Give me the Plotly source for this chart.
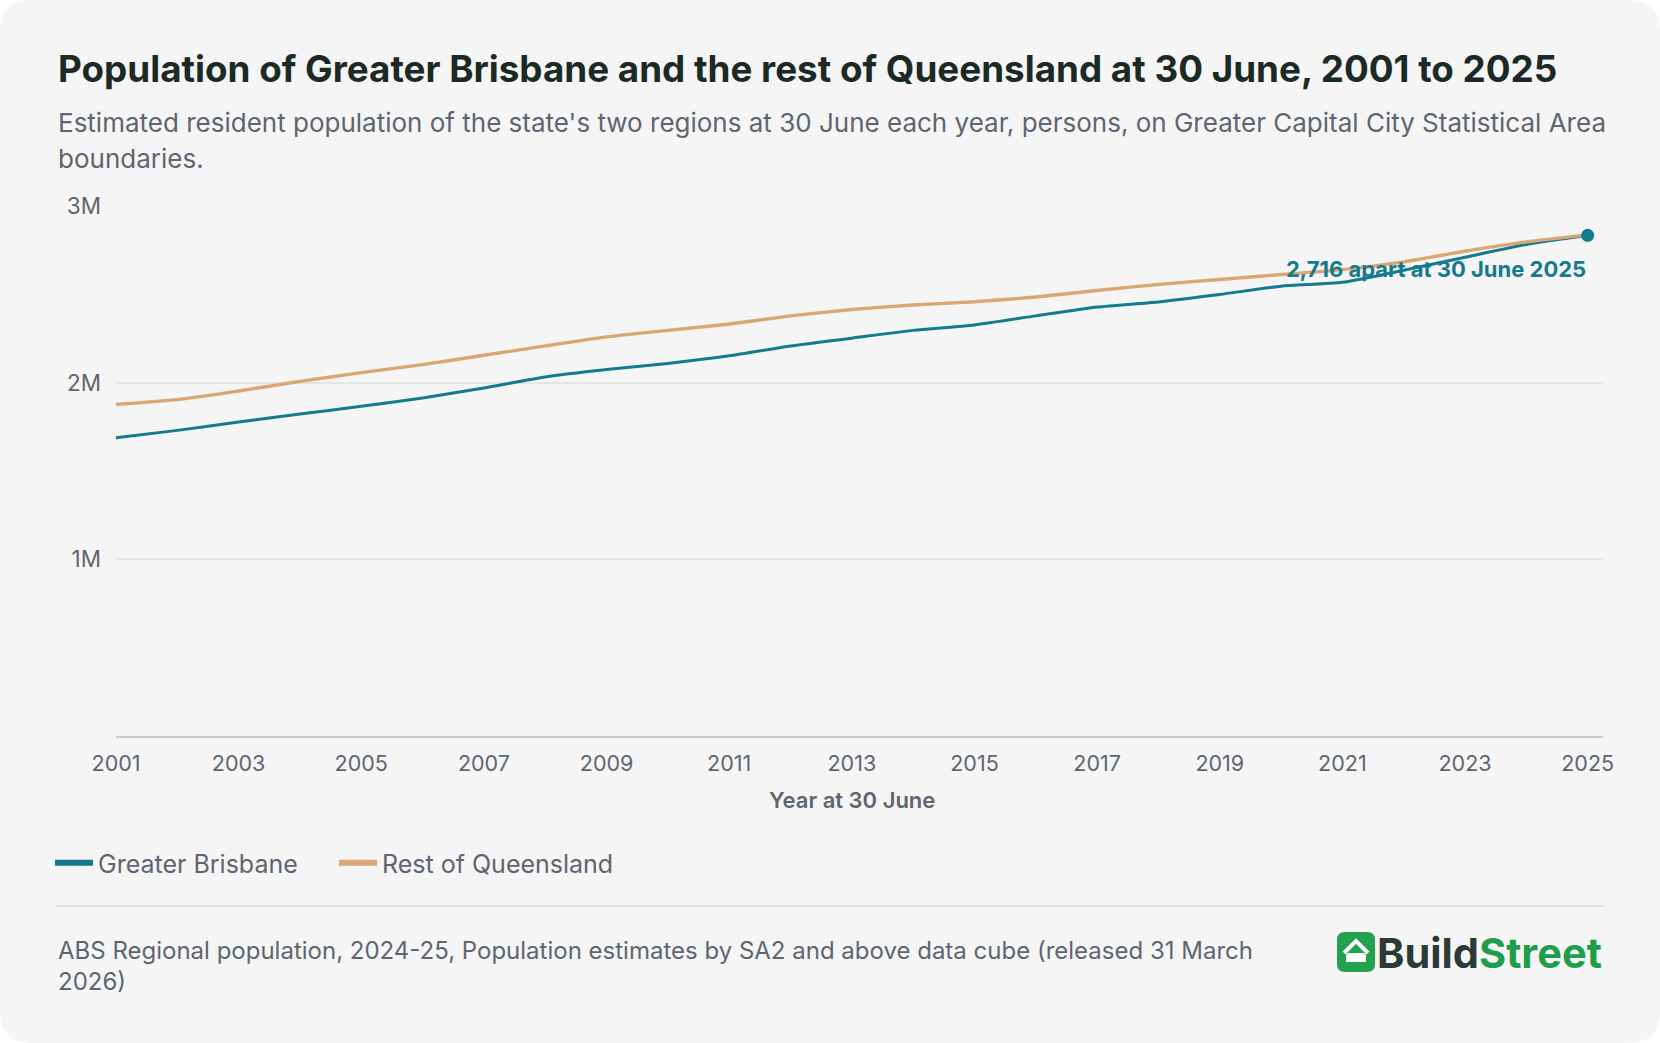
import plotly.graph_objects as go

# Estimated resident population at 30 June
years = list(range(2001, 2026))
brisbane = [1688000, 1730000, 1777000, 1823000, 1866000, 1913000, 1970000, 2032000,
            2074000, 2109000, 2152000, 2208000, 2252000, 2296000, 2327000, 2378000,
            2428000, 2457000, 2499000, 2546000, 2568000, 2636000, 2710000, 2782000,
            2834000]
rest_of_qld = [1877000, 1904000, 1953000, 2007000, 2057000, 2102000, 2155000, 2208000,
               2259000, 2296000, 2332000, 2378000, 2414000, 2440000, 2458000, 2485000,
               2522000, 2556000, 2584000, 2612000, 2640000, 2684000, 2744000, 2797000,
               2836716]
x_ticks = list(range(2001, 2026, 2))
y_ticks = [1000000, 2000000, 3000000]
y_tick_labels = ["1M", "2M", "3M"]
gap_label = f"{rest_of_qld[-1] - brisbane[-1]:,} apart at 30 June 2025"

TEAL = "#147a8e"
TAN = "#d9a674"
W, H = 1660, 1043
L, R, T, B = 116, 57, 206, 307
PW, PH = W - L - R, H - T - B


# helpers to place things by pixel position in paper coordinates
def px(xp):
    return (xp - L) / PW


def py(yp):
    return 1 - (yp - T) / PH


fig = go.Figure()

fig.add_trace(go.Scatter(x=years, y=brisbane, mode="lines", name="Greater Brisbane",
                         line=dict(color=TEAL, width=3, shape="spline", smoothing=0.6),
                         showlegend=False))
fig.add_trace(go.Scatter(x=years, y=rest_of_qld, mode="lines", name="Rest of Queensland",
                         line=dict(color=TAN, width=3.4, shape="spline", smoothing=0.6),
                         showlegend=False))
fig.add_trace(go.Scatter(x=years[-1:], y=brisbane[-1:], mode="markers", showlegend=False,
                         marker=dict(color=TEAL, size=13)))

# legend entries with thicker strokes
fig.add_trace(go.Scatter(x=[None], y=[None], mode="lines", name="Greater Brisbane",
                         line=dict(color=TEAL, width=6)))
fig.add_trace(go.Scatter(x=[None], y=[None], mode="lines", name="Rest of Queensland",
                         line=dict(color=TAN, width=6)))

FONT = "Inter, Roboto, sans-serif"
GREY = "#5d6570"

annotations = [
    dict(text="Population of Greater Brisbane and the rest of Queensland at 30 June, 2001 to 2025",
         x=px(56), y=py(69), font=dict(size=36.8, color="#1c2a26", weight=700)),
    dict(text="Estimated resident population of the state's two regions at 30 June each year, persons, on Greater Capital City Statistical Area",
         x=px(56), y=py(123), font=dict(size=26, color=GREY)),
    dict(text="boundaries.", x=px(56), y=py(159), font=dict(size=26, color=GREY)),
    dict(text="Year at 30 June", x=px(852), y=py(800), xanchor="center",
         font=dict(size=22, color=GREY, weight=600)),
    dict(text="ABS Regional population, 2024-25, Population estimates by SA2 and above data cube (released 31 March",
         x=px(56), y=py(950), font=dict(size=24, color=GREY)),
    dict(text="2026)", x=px(56), y=py(981), font=dict(size=24, color=GREY)),
    dict(text="<span style='color:#2c3a36'>Build</span><span style='color:#1e9d4a'>Street</span>",
         x=px(1604), y=py(953), xanchor="right", font=dict(size=41.5, weight=700)),
]
for a in annotations:
    a.setdefault("xanchor", "left")
    a.update(xref="paper", yref="paper", yanchor="middle", showarrow=False)

annotations.append(dict(text=gap_label, x=years[-1], y=brisbane[-1], xref="x", yref="y",
                        xanchor="right", yanchor="middle", xshift=0, yshift=-34,
                        showarrow=False, font=dict(size=22, color=TEAL, weight=700)))

# card background with rounded corners
r = 32
x0, x1, y0, y1 = px(0), px(W), py(0), py(H)
rx, ry = r / PW, r / PH
card = (f"M {x0 + rx} {y0} L {x1 - rx} {y0} Q {x1} {y0} {x1} {y0 - ry} "
        f"L {x1} {y1 + ry} Q {x1} {y1} {x1 - rx} {y1} L {x0 + rx} {y1} "
        f"Q {x0} {y1} {x0} {y1 + ry} L {x0} {y0 - ry} Q {x0} {y0} {x0 + rx} {y0} Z")

# logo icon: rounded green square with a house
ix0, ix1, iy0, iy1 = 1337, 1375, 932, 972
ir = 8
icon = (f"M {px(ix0 + ir)} {py(iy0)} L {px(ix1 - ir)} {py(iy0)} Q {px(ix1)} {py(iy0)} {px(ix1)} {py(iy0 + ir)} "
        f"L {px(ix1)} {py(iy1 - ir)} Q {px(ix1)} {py(iy1)} {px(ix1 - ir)} {py(iy1)} "
        f"L {px(ix0 + ir)} {py(iy1)} Q {px(ix0)} {py(iy1)} {px(ix0)} {py(iy1 - ir)} "
        f"L {px(ix0)} {py(iy0 + ir)} Q {px(ix0)} {py(iy0)} {px(ix0 + ir)} {py(iy0)} Z")
roof = f"M {px(1344)} {py(953)} L {px(1356)} {py(941)} L {px(1368)} {py(953)}"
body = (f"M {px(1349)} {py(953)} L {px(1363)} {py(953)} Q {px(1366)} {py(953)} {px(1366)} {py(956)} "
        f"L {px(1366)} {py(962)} L {px(1346)} {py(962)} L {px(1346)} {py(956)} "
        f"Q {px(1346)} {py(953)} {px(1349)} {py(953)} Z")

shapes = [
    dict(type="path", path=card, xref="paper", yref="paper", layer="below",
         fillcolor="#f5f5f5", line=dict(width=0)),
    dict(type="line", x0=px(56), x1=px(1604), y0=py(906), y1=py(906), xref="paper", yref="paper",
         line=dict(color="#e1e1e1", width=2)),
    dict(type="path", path=icon, xref="paper", yref="paper", fillcolor="#21a24c", line=dict(width=0)),
    dict(type="path", path=roof, xref="paper", yref="paper", line=dict(color="white", width=4)),
    dict(type="path", path=body, xref="paper", yref="paper", fillcolor="white", line=dict(width=0)),
]

fig.update_layout(
    width=W, height=H,
    margin=dict(l=L, r=R, t=T, b=B),
    paper_bgcolor="white",
    plot_bgcolor="rgba(0,0,0,0)",
    font=dict(family=FONT, color=GREY),
    annotations=annotations,
    shapes=shapes,
    showlegend=True,
    legend=dict(orientation="h", x=px(50), y=py(863), xanchor="left", yanchor="middle",
                font=dict(size=25, color=GREY), bgcolor="rgba(0,0,0,0)",
                itemwidth=38, entrywidth=231, entrywidthmode="pixels"),
    hovermode="x unified",
)
fig.update_xaxes(range=[2001, 2025.25], tickvals=x_ticks, showgrid=False,
                 showline=True, linecolor="#c9c9c3", linewidth=2, ticks="",
                 ticklabelstandoff=7, tickfont=dict(size=21.5, color=GREY), zeroline=False)
fig.update_yaxes(range=[0, 3000000], tickvals=y_ticks, ticktext=y_tick_labels,
                 showgrid=True, gridcolor="#e4e4e4", gridwidth=1.5, zeroline=False,
                 ticks="", ticklabelstandoff=14, tickfont=dict(size=22.5, color=GREY))

# the page's default body margin would shift the figure off its card
fig.write_html("out.html", config={"displayModeBar": False},
               post_script="document.body.style.margin = '0';")
